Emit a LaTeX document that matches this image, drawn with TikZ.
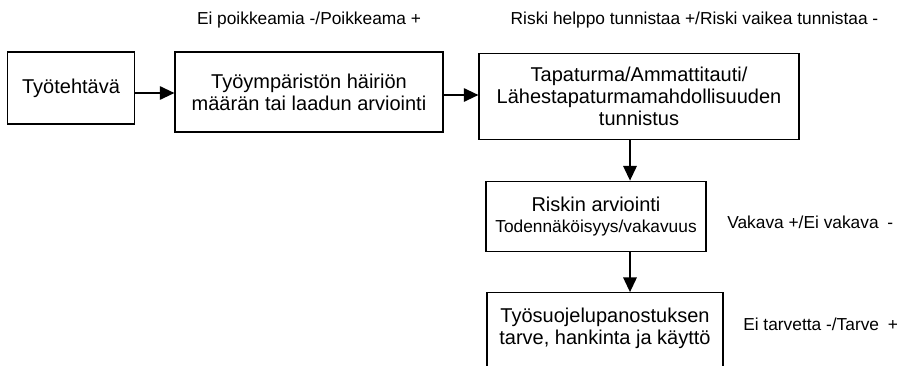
\documentclass[tikz,border=0pt]{standalone}
\usepackage{fontspec}
\setmainfont{Liberation Sans}
\usetikzlibrary{arrows.meta}
\begin{document}
\begin{tikzpicture}[x=0.75pt,y=-0.75pt,
  box/.style={draw,line width=0.8pt,inner sep=0pt,align=center,font=\fontsize{15}{16.5}\selectfont},
  note/.style={inner sep=0pt,font=\fontsize{13}{15}\selectfont},
  flow/.style={line width=1.5pt,-{Triangle[length=11pt,width=10pt]}}]
\useasboundingbox (0,0) rectangle (905,365);
\clip (0,0) rectangle (905,365);
% process boxes
\node[box,minimum width=95pt,minimum height=54pt] (task) at (71,88) {Työtehtävä};
\node[box,minimum width=201pt,minimum height=60pt] (env) at (309,92) {Työympäristön häiriön\\määrän tai laadun arviointi};
\node[box,minimum width=240pt,minimum height=65pt] (ident) at (639,96.5) {Tapaturma/Ammattitauti/\\Lähestapaturmamahdollisuuden\\tunnistus};
\node[box,minimum width=165pt,minimum height=53pt] (risk) at (596,216.5) {Riskin arviointi\\[-1pt]{\fontsize{13}{15}\selectfont Todennäköisyys/vakavuus}};
\node[box,minimum width=177pt,minimum height=80pt] (ppe) at (605,346) {};
\node[box,draw=none] (ppetext) at (605,328) {Työsuojelupanostuksen\\tarve, hankinta ja käyttö};
% connectors
\draw[flow] (task.east |- 0,93) -- (env.west |- 0,93);
\draw[flow] (env.east |- 0,95) -- (ident.west |- 0,95);
\draw[flow] (ident.south -| 630,0) -- (risk.north -| 630,0);
\draw[flow] (risk.south -| 630,0) -- (ppe.north -| 630,0);
% annotations
\node[note] (n1) at (309,20) {Ei poikkeamia -/Poikkeama +};
\node[note] (n2) at (694.5,20) {Riski helppo tunnistaa +/Riski vaikea tunnistaa -};
\node[note,anchor=west] (n3) at (727,222) {Vakava +/Ei vakava\enspace -};
\node[note,anchor=west] (n4) at (743,324) {Ei tarvetta -/Tarve\enspace +};
\end{tikzpicture}
\end{document}
